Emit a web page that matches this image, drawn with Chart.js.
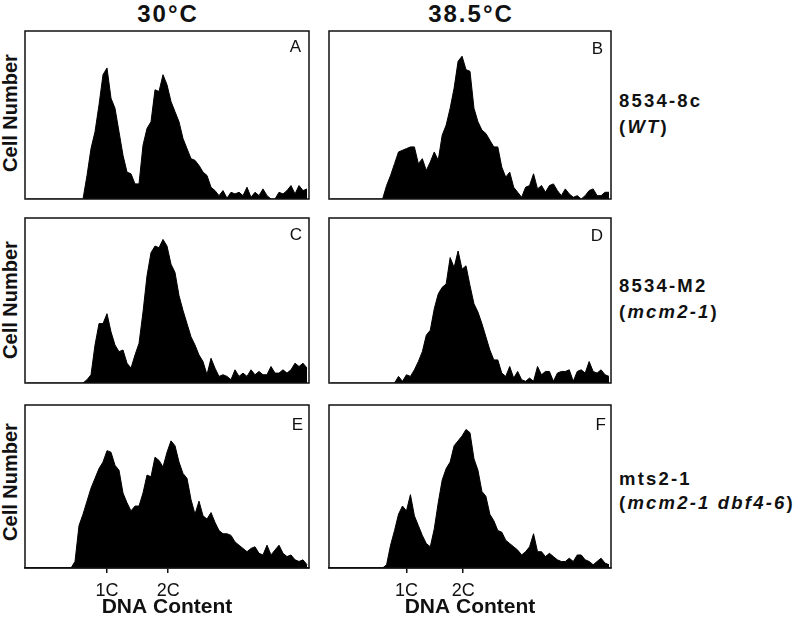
<!DOCTYPE html>
<html><head><meta charset="utf-8">
<script src="https://cdn.jsdelivr.net/npm/chart.js@4"></script>
<style>
body{margin:0;width:800px;height:617px;background:#fff;position:relative;overflow:hidden;font-family:"Liberation Sans",Arial,sans-serif;color:#111}
canvas{position:absolute}
.t{position:absolute;white-space:nowrap;line-height:1}
.b{font-weight:bold}
</style></head><body>
<script>
// ---- data ----
const panelLetters = ['A','B','C','D','E','F'];
const tempLabels = ['30°C','38.5°C'];
const strainNames = ['8534-8c','8534-M2','mts2-1'];
const genotypes = ['WT','mcm2-1','mcm2-1 dbf4-6'];
const yAxisLabel = 'Cell Number';
const xAxisLabel = 'DNA Content';
const tickLabels = ['1C','2C'];
const tickPosE = [20, 35.3];
const tickPosF = [19, 33.3];

const histA = [0,0,0,0,0,0,0,0,0,0,0,0,0,0,0,
 14,30,40,56,74,78,60,54,40,26,16,15,9,9,32,42,46,65,64,74,68,58,52,46,36,30,24,23,20,16,14,7,5,2,5,0.5,4,3,4,2,7,1,4,2,6,2,0,0,4,3,5,8,3,8,5,6];
const histB = [0,0,0,0,0,0,0,0,0,0,0,0,0,0,
 8,14,21,28,29,30,31,31,21,24,17,22,28,23,38,44,54,66,82,85,77,76,54,46,41,39,35,31,31,19,13,16,7,4,1,7,8,15,6,8,4,8,9,5,2,6,3,1,2,0,2,5,6,2,2,4,4];
const histC = [0,0,0,0,0,0,0,0,0,0,0,0,0,0,0,
 2,5,23,36,36,42,31,23,19,20,12,9,17,24,43,65,79,83,82,87,83,72,67,53,44,36,28,23,17,13,5,15,9,4,5,4,2,8,4,6,4,8,5,7,5,5,10,6,6,8,6,8,12,10,12,9];
const histD = [0,0,0,0,0,0,0,0,0,0,0,0,0,0,0,0,0,
 4,1,5,4,8,13,19,29,32,45,54,58,60,76,70,80,69,71,59,48,43,36,28,20,14,14,6,4,10,3,7,2,1,3,1,10,5,7,7,1,6,7,7,8,1,7,8,6,13,7,6,8,5,4];
const histE = [0,0,0,0,0,0,0,0,0,0,0,0,
 4,26,33,41,49,55,61,65,72,71,63,60,46,40,35,38,38,46,57,56,68,66,62,71,78,75,65,58,55,42,33,41,32,30,34,28,23,21,21,20,16,14,12,10,12,13,9,8,14,8,11,14,9,7,8,5,4,5,2];
const histF = [0,0,0,0,0,0,0,0,0,0,0,0,0,0,
 2,14,23,33,38,35,45,32,26,20,15,13,24,40,54,61,65,75,78,81,85,83,67,60,47,44,33,29,23,22,17,15,13,11,8,10,13,21,10,10,7,9,7,5,4,4,6,4,8,8,5,4,2,4,6,3,2];

// ---- layout ----
const FONT = '"Liberation Sans", Arial, sans-serif';
const INK = '#111';
const boxes = [
  {x:25, y:31, w:284, h:168},
  {x:329,y:31, w:282, h:168},
  {x:25, y:218,w:284, h:165},
  {x:329,y:218,w:282, h:165},
  {x:25, y:405,w:284, h:163},
  {x:329,y:405,w:282, h:163}
];
const series = [histA,histB,histC,histD,histE,histF];
const ticksFor = [null,null,null,null,tickPosE,tickPosF];

const frame = {id:'frame', afterDraw(chart){
  const {ctx, chartArea:a} = chart;
  ctx.save(); ctx.strokeStyle = INK; ctx.lineWidth = 1.5;
  ctx.strokeRect(a.left, a.top, a.right-a.left, a.bottom-a.top);
  ctx.restore();
}};

function makePanel(box, values, ticks){
  const bottom = !!ticks;
  const pad = 2;
  const axisH = bottom ? 617 - (box.y + box.h) : 0;
  const W = box.w + 2*pad, H = box.h + pad + (bottom ? axisH : pad);
  const c = document.createElement('canvas');
  c.width = W; c.height = H;
  c.style.left = (box.x - pad) + 'px'; c.style.top = (box.y - pad) + 'px';
  c.style.width = W + 'px'; c.style.height = H + 'px';
  document.body.appendChild(c);
  new Chart(c, {
    type:'line',
    data:{datasets:[{data: values.map((v,i)=>({x:i,y:v})), fill:'origin',
      backgroundColor:'#000', borderColor:'#000', borderWidth:1, pointRadius:0, tension:0}]},
    options:{
      responsive:false, animation:false, devicePixelRatio:1,
      layout:{padding:{left:pad,right:pad,top:pad,bottom: bottom?0:pad}},
      plugins:{legend:{display:false}, tooltip:{enabled:false}},
      scales:{
        x:{type:'linear', min:-0.5, max:values.length-0.5, display:bottom,
          afterBuildTicks: s => { if (ticks) s.ticks = ticks.map(v=>({value:v})); },
          afterFit: s => { if (bottom) s.height = axisH; },
          grid:{display:true, drawOnChartArea:false, drawTicks:true, tickLength:5, color:INK, lineWidth:1.5},
          border:{display:true, color:INK, width:1.5},
          ticks:{autoSkip:false, maxRotation:0, padding:7.5, color:INK,
            font:{family:FONT, size:18}, callback:(v,i)=>tickLabels[i]},
          title:{display:true, text:xAxisLabel, color:INK,
            font:{family:FONT, size:21, weight:'bold', lineHeight:0.9}, padding:{top:0,bottom:0}}
        },
        y:{display:false, min:0, max:100}
      }
    },
    plugins:[frame]
  });
}
series.forEach((s,i)=>makePanel(boxes[i], s, ticksFor[i]));

function addText(html, css, cls){
  const d = document.createElement('div');
  d.className = 't ' + (cls||'');
  d.innerHTML = html;
  Object.assign(d.style, css);
  document.body.appendChild(d);
  return d;
}
// column titles
const titleCenters = [168, 471];
tempLabels.forEach((t,i)=>addText(t, {left:(titleCenters[i]-70)+'px', width:'140px', textAlign:'center',
  top:'2px', fontSize:'24px', letterSpacing:'2px'}, 'b'));
// y labels
const yCenters = [113, 300, 482];
yCenters.forEach(cy=>addText(yAxisLabel, {left:'10px', top:cy+'px', fontSize:'20px',
  transform:'translate(-50%,-50%) rotate(-90deg)'}, 'b'));
// panel letters
const letterPos = [[301,37.6],[603,39.6],[302,225.6],[603,226.6],[303,415.6],[606,415.6]];
panelLetters.forEach((l,i)=>addText(l, {right:(800-letterPos[i][0])+'px', top:letterPos[i][1]+'px', fontSize:'17px'}));
// strain labels
const strainTops = [[88,26],[273,26],[467,24]];
strainNames.forEach((s,i)=>addText(s + '<br>(<i>' + genotypes[i] + '</i>)',
  {left:'619px', top:strainTops[i][0]+'px', fontSize:'18.5px', letterSpacing:'2.2px', lineHeight:strainTops[i][1]+'px'}, 'b'));
</script>
</body></html>
